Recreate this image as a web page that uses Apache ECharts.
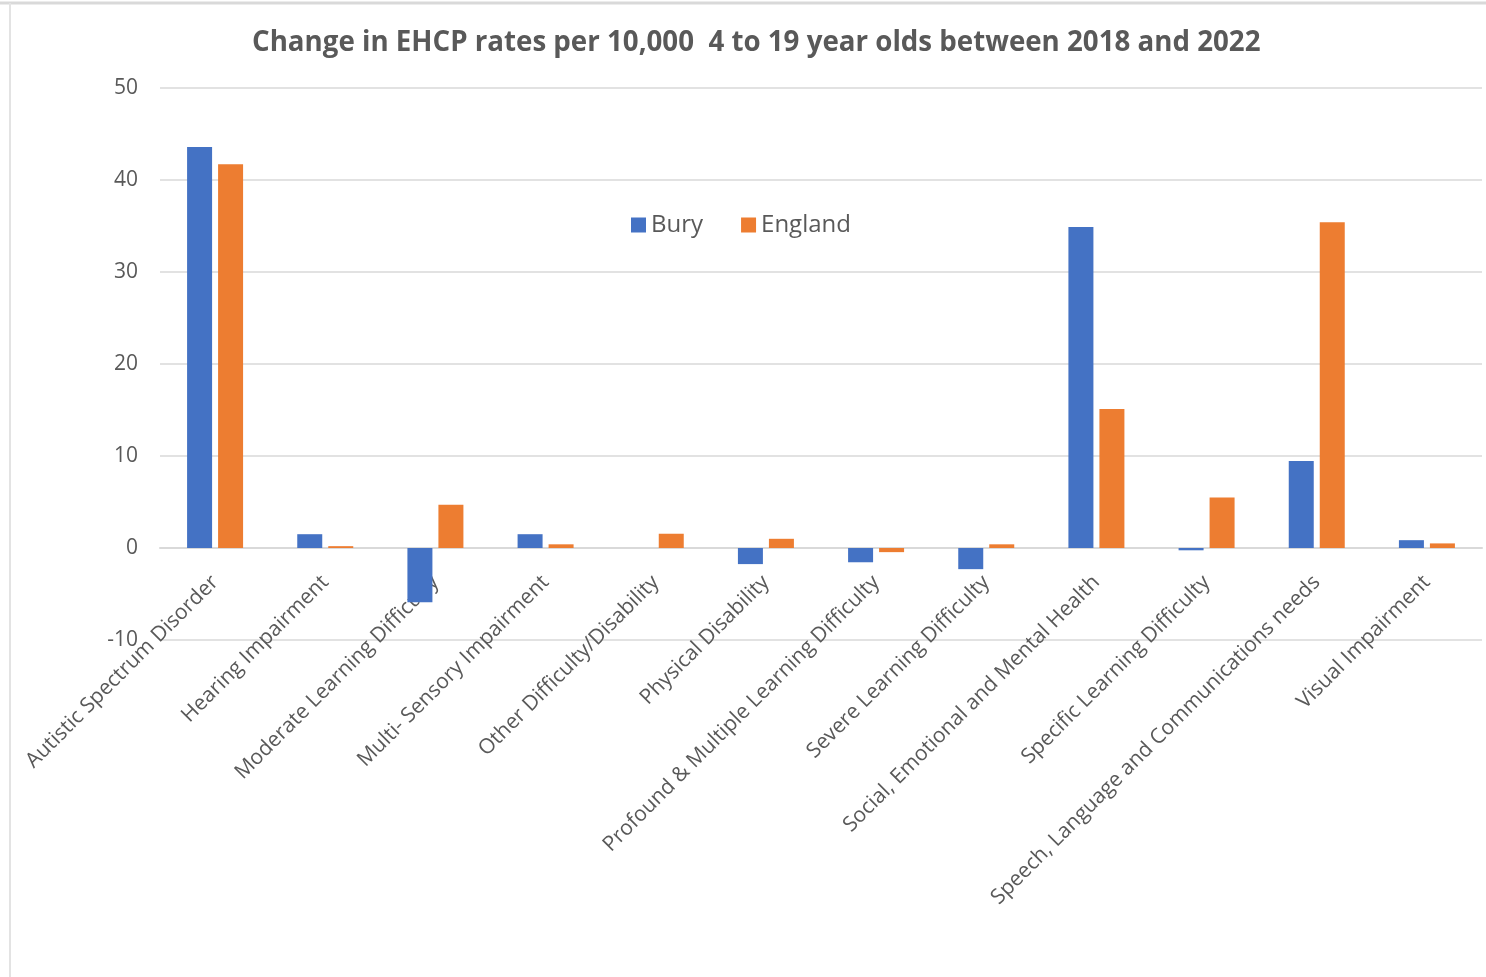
<!DOCTYPE html>
<html>
<head>
<meta charset="utf-8">
<script src="https://cdn.jsdelivr.net/npm/echarts@6/dist/echarts.min.js"></script>
<style>
  html, body { margin: 0; padding: 0; background: #fff; }
  #chart { width: 1486px; height: 977px; }
</style>
</head>
<body>
<div id="chart"></div>
<script>
"use strict";

// 类别
const categories = [
    "Autistic Spectrum Disorder",
    "Hearing Impairment",
    "Moderate Learning Difficulty",
    "Multi- Sensory Impairment",
    "Other Difficulty/Disability",
    "Physical Disability",
    "Profound & Multiple Learning Difficulty",
    "Severe Learning Difficulty",
    "Social, Emotional and Mental Health",
    "Specific Learning Difficulty",
    "Speech, Language and Communications needs",
    "Visual Impairment"
];
// 数值
const bury = [43.6, 1.5, -5.9, 1.5, 0, -1.75, -1.55, -2.3, 34.9, -0.25, 9.45, 0.85];
const england = [41.7, 0.2, 4.7, 0.4, 1.55, 1.0, -0.45, 0.4, 15.1, 5.5, 35.4, 0.5];

const textColor = '#595959';
const gridColor = '#d9d9d9';
const font = "'Open Sans', sans-serif";

let myChart = echarts.init(document.getElementById('chart'));

let option = {
    animation: false,
    textStyle: { fontFamily: font },
    title: {
        text: "Change in EHCP rates per 10,000  4 to 19 year olds between 2018 and 2022",
        left: 247,
        top: 24,
        textStyle: {
            color: textColor,
            fontSize: 27.7,
            fontWeight: 'bold',
            fontFamily: font,
        },
    },
    legend: {
        left: 626,
        top: 208,
        itemWidth: 15,
        itemHeight: 15,
        itemGap: 38,
        icon: 'rect',
        textStyle: { color: textColor, fontSize: 24, fontFamily: font },
        data: ['Bury', 'England'],
    },
    grid: {
        left: 160,
        right: 4,
        top: 88,
        bottom: 337,
    },
    xAxis: {
        type: 'category',
        data: categories,
        // 轴线放在 0 处（标签随之移动）
        offset: -92,
        axisLine: { onZero: false, lineStyle: { color: gridColor, width: 2 } },
        axisTick: { show: false },
        axisLabel: {
            rotate: 45,
            interval: 0,
            margin: 31,
            color: textColor,
            fontSize: 21,
            fontFamily: font,
        },
    },
    yAxis: {
        type: 'value',
        min: -10,
        max: 50,
        interval: 10,
        axisLine: { show: false },
        axisTick: { show: false },
        axisLabel: { color: textColor, fontSize: 21, margin: 22, fontFamily: font },
        splitLine: { lineStyle: { color: gridColor, width: 1.5 } },
    },
    series: [
        {
            name: 'Bury',
            type: 'bar',
            data: bury,
            barWidth: 25,
            barGap: '24%',
            itemStyle: { color: '#4472C4' },
        },
        {
            name: 'England',
            type: 'bar',
            data: england,
            barWidth: 25,
            itemStyle: { color: '#ED7D31' },
        },
    ],
    graphic: [
        { // 截图边框
            type: 'line',
            shape: { x1: 0, y1: 3, x2: 1486, y2: 3 },
            style: { stroke: '#d9d9d9', lineWidth: 3 },
        },
        {
            type: 'line',
            shape: { x1: 10, y1: 3, x2: 10, y2: 977 },
            style: { stroke: '#e3e3e3', lineWidth: 2 },
        },
    ],
};

myChart.setOption(option);
</script>
</body>
</html>
